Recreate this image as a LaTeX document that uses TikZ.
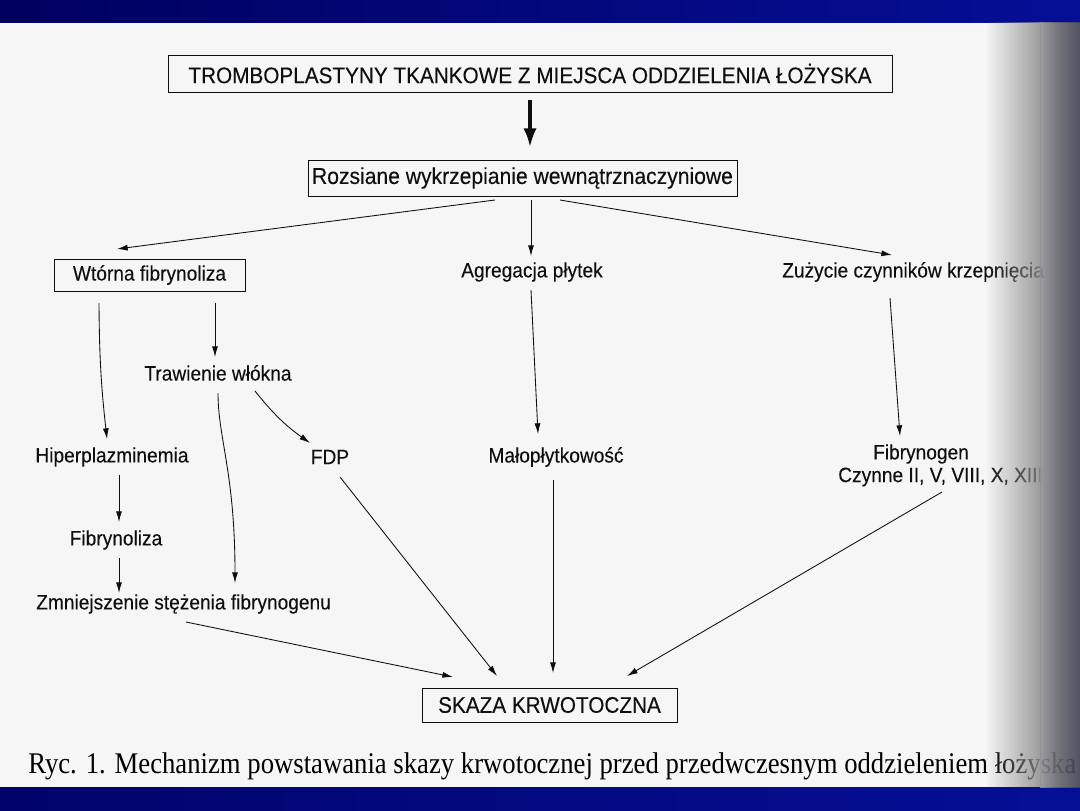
\documentclass[tikz,border=0pt]{standalone}
\usepackage{fontspec}
\usetikzlibrary{arrows.meta,calc,fadings}
\newfontfamily\hv[FakeStretch=0.92,FakeBold=0.15]{Liberation Sans}
\newfontfamily\tms[FakeStretch=0.89]{Liberation Serif}
\definecolor{paper}{RGB}{246,246,246}
\definecolor{ink}{RGB}{15,15,15}
\definecolor{navyA}{RGB}{0,0,95}
\definecolor{navyB}{RGB}{5,15,150}
\definecolor{edgeA}{RGB}{140,140,140}
\definecolor{edgeL}{RGB}{198,198,198}
\definecolor{edgeM}{RGB}{105,105,112}
\definecolor{edgeB}{RGB}{30,30,58}
\pgfdeclarehorizontalshading{pageedgeR}{100bp}{color(0bp)=(edgeL); color(45bp)=(edgeM); color(100bp)=(edgeB)}
\tikzfading[name=edgefade, left color=transparent!100, right color=transparent!15]
\tikzset{
  lbl/.style={inner sep=0pt, text=ink, font=\hv\fontsize{15.6}{18}\selectfont},
  boxed/.style={lbl, draw=ink, line width=0.75pt},
  arr/.style={draw=ink, line width=0.65pt, -{Latex[length=8pt,width=4.5pt]}},
  thickarr/.style={draw=ink, line width=2.4pt, -{Latex[length=14pt,width=10pt]}},
}
\begin{document}
\begin{tikzpicture}[x=0.75pt,y=-0.75pt]
\useasboundingbox (0,0) rectangle (1080,810);
% page
\fill[paper] (0,0) rectangle (1080,810);
% blue bands
\shade[left color=navyA, right color=navyB] (0,0) rectangle (1080,22);
\shade[left color=navyA!80!navyB, right color=navyB] (0,787) rectangle (1080,810);

% nodes
\node[boxed, minimum width=724*0.75pt, minimum height=37*0.75pt,
      font=\hv\fontsize{16.9}{18}\selectfont] (tromb) at (530,73.5)
      {TROMBOPLASTYNY TKANKOWE Z MIEJSCA ODDZIELENIA ŁOŻYSKA};
\node[boxed, minimum width=429*0.75pt, minimum height=36*0.75pt,
      font=\hv\fontsize{17.2}{18}\selectfont] (rozs) at (522.5,178)
      {Rozsiane wykrzepianie wewnątrznaczyniowe};
\node[boxed, minimum width=191*0.75pt, minimum height=32*0.75pt] (wtorna) at (149.5,275)
      {Wtórna fibrynoliza};
\node[lbl] (agreg) at (532,272) {Agregacja płytek};
\node[lbl, anchor=west] (zuz) at (782,272) {Zużycie czynników krzepnięcia};
\node[lbl] (traw) at (218,373) {Trawienie włókna};
\node[lbl] (hiper) at (112,457) {Hiperplazminemia};
\node[lbl] (fdp) at (330,457) {FDP};
\node[lbl] (malo) at (556,457) {Małopłytkowość};
\node[lbl] (fibg) at (921,454) {Fibrynogen};
\node[lbl, anchor=west] (czyn) at (838,477) {Czynne II, V, VIII, X, XIII};
\node[lbl] (fibl) at (116,540) {Fibrynoliza};
\node[lbl, anchor=west] (zmn) at (36,604) {Zmniejszenie stężenia fibrynogenu};
\node[boxed, minimum width=255*0.75pt, minimum height=34*0.75pt,
      font=\hv\fontsize{16.9}{18}\selectfont] (skaza) at (549.5,705) {SKAZA KRWOTOCZNA};
\node[anchor=west, inner sep=0pt, text=black, font=\tms\fontsize{22.5}{24}\selectfont] (cap) at (28,766)
      {Ryc. 1. Mechanizm powstawania skazy krwotocznej przed przedwczesnym oddzieleniem łożyska};

% connectors
\draw[thickarr] ($(tromb)+(0,26.5)$) -- ($(rozs)+(7.5,-31)$);
\draw[arr] ($(rozs)+(-27.5,22)$) -- ($(wtorna)+(-32.5,-26)$);
\draw[arr] ($(rozs)+(8.5,22)$) -- ($(agreg)+(-1,-16)$);
\draw[arr] ($(rozs)+(37.5,22)$) -- ($(zuz.west)+(110,-17)$);
\draw[arr] ($(wtorna)+(-50.5,28)$) to[bend right=3] ($(hiper)+(-5,-18)$);
\draw[arr] ($(wtorna)+(65.5,28)$) -- ($(traw)+(-3,-16)$);
\draw[arr] ($(traw)+(0,20)$) .. controls +(0,45) and +(0,-110) .. ($(zmn.west)+(199,-21)$);
\draw[arr] ($(traw)+(37,18)$) to[bend right=8] ($(fdp)+(-20,-14)$);
\draw[arr] ($(agreg)+(-1,18)$) -- ($(malo)+(-18,-23)$);
\draw[arr] ($(zuz.west)+(108,26)$) -- ($(fibg)+(-21,-18)$);
\draw[arr] ($(hiper)+(7,18)$) -- ($(fibl)+(3,-18)$);
\draw[arr] ($(fibl)+(3,18)$) -- ($(zmn.west)+(83,-11)$);
\draw[arr] ($(zmn.west)+(150,18)$) -- ($(skaza)+(-96.5,-28)$);
\draw[arr] ($(fdp)+(10,20)$) -- ($(skaza)+(-52.5,-29)$);
\draw[arr] ($(malo)+(-3,23)$) -- ($(skaza)+(3.5,-32)$);
\draw[arr] ($(czyn.west)+(104,15)$) -- ($(skaza)+(77.5,-29)$);

% right edge shadow of the scanned page, over the text
\fill[edgeA, path fading=edgefade, fit fading=true] (985,22) rectangle (1041,787);
\shade[shading=pageedgeR, fill opacity=0.9] (1040,22) rectangle (1080,787);
\end{tikzpicture}
\end{document}
